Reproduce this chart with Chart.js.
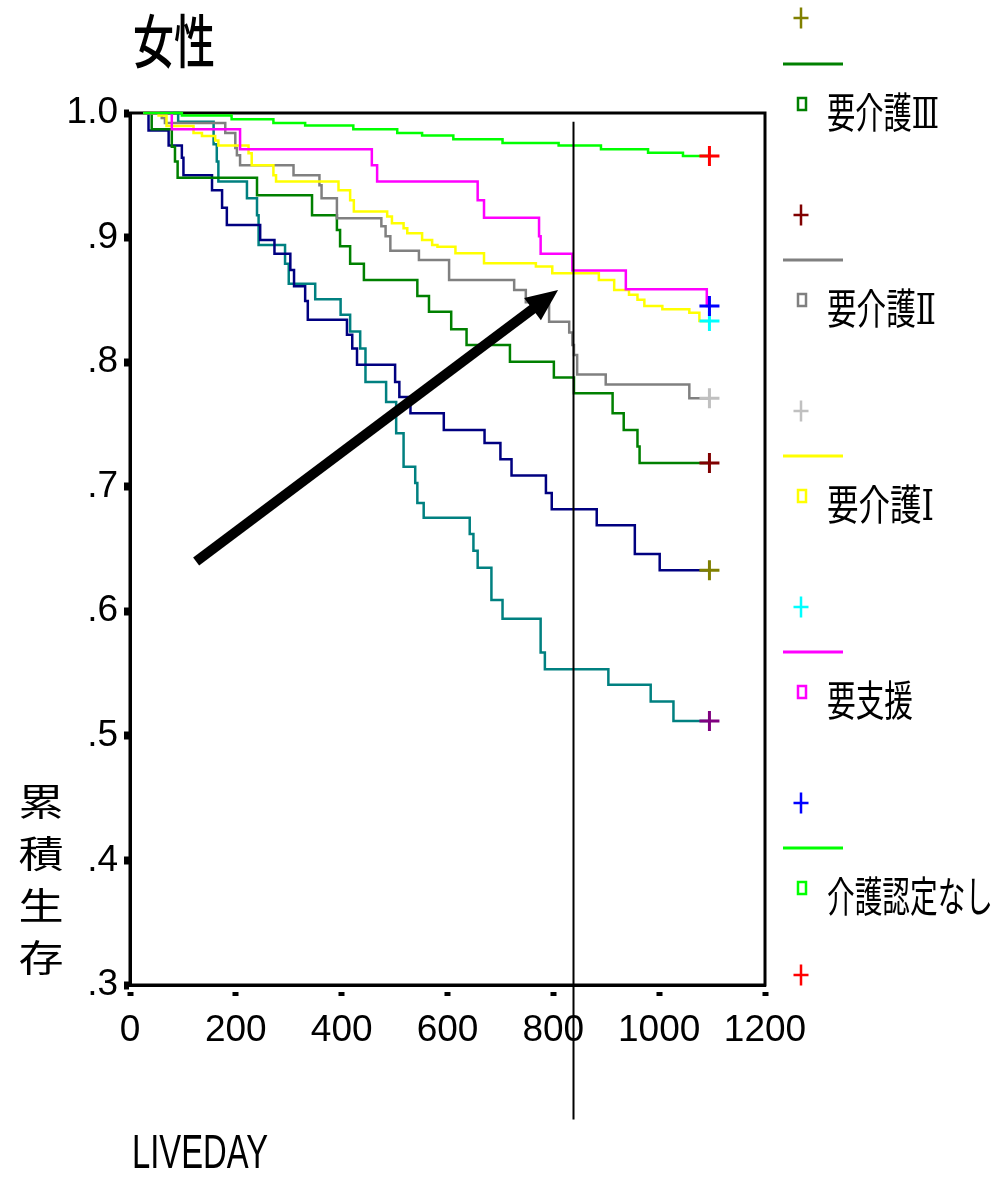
<!DOCTYPE html>
<html lang="ja">
<head>
    <meta charset="UTF-8">
    <title>女性 累積生存</title>
    <script src="https://cdn.jsdelivr.net/npm/chart.js"></script>
    <style>
        body {
            margin: 0;
            padding: 0;
            background: #fff;
        }
        #wrap {
            width: 999px;
            height: 1179px;
        }
    </style>
</head>
<body>
<div id="wrap"><canvas id="kmChart" width="999" height="1179"></canvas></div>
<script>
    // Kaplan-Meier steps: day of event, cumulative survival after it
    const limeDays = [25, 98, 192, 271, 331, 422, 505, 552, 611, 704, 810, 890, 979, 1045, 1095];
    const limeSurv = [1.0, 0.998, 0.995, 0.992, 0.990, 0.987, 0.984, 0.982, 0.979, 0.976, 0.974, 0.971, 0.968, 0.9655, 0.9655];

    const magentaDays = [25, 79, 208, 457, 467, 657, 669, 773, 776, 836, 937, 1090, 1095];
    const magentaSurv = [1.0, 0.987, 0.971, 0.958, 0.945, 0.930, 0.916, 0.901, 0.887, 0.8735, 0.8585, 0.845, 0.845];

    const yellowDays = [25, 54, 69, 120, 136, 161, 167, 224, 230, 271, 276, 394, 416, 423, 486, 495, 517, 524, 552, 571, 581, 615, 669, 767, 798, 886, 915, 943, 959, 972, 1006, 1057, 1076, 1095];
    const yellowSurv = [1.0, 0.998, 0.9896, 0.984, 0.9815, 0.978, 0.974, 0.9676, 0.958, 0.950, 0.945, 0.938, 0.930, 0.921, 0.917, 0.9115, 0.9074, 0.9034, 0.898, 0.894, 0.8927, 0.8874, 0.8793, 0.8767, 0.8713, 0.866, 0.858, 0.854, 0.850, 0.845, 0.8424, 0.8397, 0.833, 0.833];

    const grayDays = [25, 60, 66, 180, 199, 202, 208, 309, 358, 362, 391, 475, 483, 492, 546, 603, 726, 748, 792, 830, 836, 839, 845, 899, 1057, 1095];
    const graySurv = [1.0, 0.996, 0.992, 0.984, 0.972, 0.966, 0.958, 0.950, 0.942, 0.9315, 0.9155, 0.909, 0.901, 0.8895, 0.882, 0.866, 0.858, 0.848, 0.8325, 0.8237, 0.8138, 0.8058, 0.790, 0.782, 0.771, 0.771];

    const greenDays = [25, 41, 79, 85, 90, 240, 344, 391, 397, 416, 442, 543, 565, 607, 636, 718, 801, 839, 912, 933, 959, 963, 1095];
    const greenSurv = [1.0, 0.987, 0.973, 0.961, 0.948, 0.934, 0.918, 0.906, 0.893, 0.879, 0.866, 0.853, 0.8405, 0.8264, 0.8138, 0.8004, 0.7876, 0.775, 0.759, 0.7456, 0.7322, 0.719, 0.719];

    const navyDays = [25, 35, 73, 98, 101, 155, 174, 183, 246, 273, 303, 310, 331, 336, 410, 420, 429, 501, 509, 530, 593, 670, 700, 721, 786, 797, 882, 954, 1001, 1095];
    const navySurv = [1.0, 0.986, 0.974, 0.964, 0.950, 0.938, 0.924, 0.910, 0.898, 0.887, 0.874, 0.861, 0.849, 0.834, 0.822, 0.811, 0.798, 0.784, 0.772, 0.759, 0.7456, 0.735, 0.722, 0.709, 0.695, 0.682, 0.669, 0.646, 0.633, 0.633];

    const tealDays = [25, 91, 158, 164, 167, 221, 240, 243, 293, 300, 350, 398, 416, 435, 445, 484, 503, 517, 539, 543, 555, 642, 649, 657, 683, 704, 776, 784, 904, 984, 1027, 1095];
    const tealSurv = [1.0, 0.993, 0.975, 0.961, 0.945, 0.9315, 0.918, 0.894, 0.879, 0.863, 0.8505, 0.838, 0.8245, 0.811, 0.784, 0.768, 0.743, 0.716, 0.703, 0.687, 0.675, 0.662, 0.6485, 0.635, 0.609, 0.594, 0.567, 0.5535, 0.541, 0.5275, 0.512, 0.512];

    // legend entries visible in the figure (top of the legend is cut off)
    const legendLabels = ['要介護Ⅲ', '要介護Ⅱ', '要介護Ⅰ', '要支援', '介護認定なし'];

    const xTickValues = [0, 200, 400, 600, 800, 1000, 1200];
    const xTickLabels = ['0', '200', '400', '600', '800', '1000', '1200'];
    const yTickValues = [0.3, 0.4, 0.5, 0.6, 0.7, 0.8, 0.9, 1.0];
    const yTickLabels = ['.3', '.4', '.5', '.6', '.7', '.8', '.9', '1.0'];

    // reference line and arrow (data coordinates)
    const refDay = 838;
    const refSpan = [0.993, 0.192];
    const arrowFrom = [125, 0.64];
    const arrowTo = [809, 0.858];

    const series = [
        { label: '介護認定なし', days: limeDays, surv: limeSurv, color: '#00ff00', censor: '#ff0000' },
        { label: '要支援', days: magentaDays, surv: magentaSurv, color: '#ff00ff', censor: '#0000ff' },
        { label: '要介護Ⅰ', days: yellowDays, surv: yellowSurv, color: '#ffff00', censor: '#00ffff' },
        { label: '要介護Ⅱ', days: grayDays, surv: graySurv, color: '#808080', censor: '#c0c0c0' },
        { label: '要介護Ⅲ', days: greenDays, surv: greenSurv, color: '#008000', censor: '#800000' },
        { label: 'navy', days: navyDays, surv: navySurv, color: '#000080', censor: '#808000' },
        { label: 'teal', days: tealDays, surv: tealSurv, color: '#008080', censor: '#800080' }
    ];

    const tickFont = { family: '"Liberation Sans Narrow", "Liberation Sans", sans-serif', size: 37 };
    const labelFont = '"DejaVu Serif", "Noto Sans CJK JP"';

    function squeezeText(ctx, txt, x, y, font, width, sy) {
        ctx.font = font;
        const w = ctx.measureText(txt).width;
        ctx.save();
        ctx.translate(x, y);
        ctx.scale(width / w, sy || 1);
        ctx.textAlign = 'left';
        ctx.textBaseline = 'middle';
        ctx.fillText(txt, 0, 0);
        ctx.restore();
    }

    const extras = {
        id: 'extras',
        beforeDatasetsDraw(chart) {
            const { ctx, chartArea: a } = chart;
            ctx.save();
            ctx.strokeStyle = '#000';
            ctx.lineWidth = 3;
            ctx.strokeRect(a.left, a.top, a.right - a.left, a.bottom - a.top);
            ctx.restore();
        },
        afterDraw(chart) {
            const ctx = chart.ctx;
            const xs = chart.scales.x, ys = chart.scales.y;
            ctx.save();

            // vertical reference line
            const rx = Math.round(xs.getPixelForValue(refDay)) + 0.5;
            ctx.strokeStyle = '#000';
            ctx.lineWidth = 2;
            ctx.beginPath();
            ctx.moveTo(rx, ys.getPixelForValue(refSpan[0]));
            ctx.lineTo(rx, ys.getPixelForValue(refSpan[1]));
            ctx.stroke();

            // arrow
            const x0 = xs.getPixelForValue(arrowFrom[0]), y0 = ys.getPixelForValue(arrowFrom[1]);
            const x1 = xs.getPixelForValue(arrowTo[0]), y1 = ys.getPixelForValue(arrowTo[1]);
            const len = Math.hypot(x1 - x0, y1 - y0);
            const ux = (x1 - x0) / len, uy = (y1 - y0) / len;
            const headL = 32, headW = 14;
            const bx = x1 - ux * headL, by = y1 - uy * headL;
            ctx.lineWidth = 10;
            ctx.beginPath();
            ctx.moveTo(x0, y0);
            ctx.lineTo(bx + ux * 4, by + uy * 4);
            ctx.stroke();
            ctx.fillStyle = '#000';
            ctx.beginPath();
            ctx.moveTo(x1, y1);
            ctx.lineTo(bx - uy * headW, by + ux * headW);
            ctx.lineTo(bx + uy * headW, by - ux * headW);
            ctx.closePath();
            ctx.fill();

            // titles
            ctx.fillStyle = '#000';
            squeezeText(ctx, '女性', 133, 41, '500 58px "Noto Sans CJK JP"', 82);
            squeezeText(ctx, 'LIVEDAY', 132, 1155, '48px "Liberation Sans Narrow", "Liberation Sans", sans-serif', 136);
            const yTitle = '累積生存';
            for (let i = 0; i < yTitle.length; i++) {
                ctx.save();
                ctx.translate(41, 802 + i * 52);
                ctx.scale(1.22, 1);
                ctx.font = '37px "Noto Sans CJK JP"';
                ctx.textAlign = 'center';
                ctx.textBaseline = 'middle';
                ctx.fillText(yTitle[i], 0, 0);
                ctx.restore();
            }

            // legend (custom, as in the figure)
            const plus = (cx, cy, color) => {
                ctx.strokeStyle = color;
                ctx.lineWidth = 2.5;
                ctx.beginPath();
                ctx.moveTo(cx - 7.5, cy); ctx.lineTo(cx + 7.5, cy);
                ctx.moveTo(cx, cy - 10.5); ctx.lineTo(cx, cy + 10.5);
                ctx.stroke();
            };
            const shown = legendLabels.map(l => series.find(s => s.label === l));
            const widths = [112, 109, 107, 86, 166];
            plus(801, 18, series.find(s => s.label === 'navy').censor);
            shown.forEach((s, k) => {
                const base = k * 196;
                ctx.strokeStyle = s.color;
                ctx.lineWidth = 3;
                ctx.beginPath();
                ctx.moveTo(783, 64 + base);
                ctx.lineTo(843, 64 + base);
                ctx.stroke();
                ctx.lineWidth = 2.5;
                ctx.strokeRect(798, 98 + base, 8, 12);
                ctx.fillStyle = '#000';
                squeezeText(ctx, s.label, 827, 117 + base, '42px ' + labelFont, widths[k]);
                plus(801, k === shown.length - 1 ? 975 : 215 + base, s.censor);
            });
            ctx.restore();
        }
    };

    new Chart(document.getElementById('kmChart').getContext('2d'), {
        type: 'line',
        data: {
            datasets: series.map(s => ({
                label: s.label,
                data: s.days.map((d, i) => ({ x: d, y: s.surv[i] })),
                borderColor: s.color,
                borderWidth: 2.5,
                stepped: 'before',
                fill: false,
                clip: false,
                pointStyle: 'cross',
                pointRadius: c => c.dataIndex === s.days.length - 1 ? 10 : 0,
                pointHoverRadius: 0,
                pointBorderColor: s.censor,
                pointBackgroundColor: s.censor,
                pointBorderWidth: 3
            }))
        },
        options: {
            responsive: false,
            animation: false,
            events: [],
            layout: { padding: { left: 0, top: 113, right: 234, bottom: 114 } },
            plugins: {
                legend: { display: false },
                tooltip: { enabled: false }
            },
            scales: {
                x: {
                    type: 'linear',
                    min: 0,
                    max: 1200,
                    afterBuildTicks: s => { s.ticks = xTickValues.map(v => ({ value: v })); },
                    ticks: {
                        font: tickFont,
                        color: '#000',
                        padding: 13,
                        maxRotation: 0,
                        callback: v => xTickLabels[xTickValues.indexOf(v)]
                    },
                    grid: { drawOnChartArea: false, tickLength: 11, tickWidth: 6, tickColor: '#000', tickBorderDash: [0, 5, 6, 100] },
                    border: { color: '#000', width: 3 },
                    afterFit: s => { s.height = 80; }
                },
                y: {
                    type: 'linear',
                    min: 0.3,
                    max: 1.0,
                    afterBuildTicks: s => { s.ticks = yTickValues.map(v => ({ value: v })); },
                    ticks: {
                        font: tickFont,
                        color: '#000',
                        padding: 6,
                        callback: v => yTickLabels[yTickValues.findIndex(t => Math.abs(t - v) < 1e-6)]
                    },
                    grid: { drawOnChartArea: false, tickLength: 6, tickWidth: 8, tickColor: '#000' },
                    border: { color: '#000', width: 3 },
                    afterFit: s => { s.width = 130; }
                }
            }
        },
        plugins: [extras]
    });
</script>
</body>
</html>
